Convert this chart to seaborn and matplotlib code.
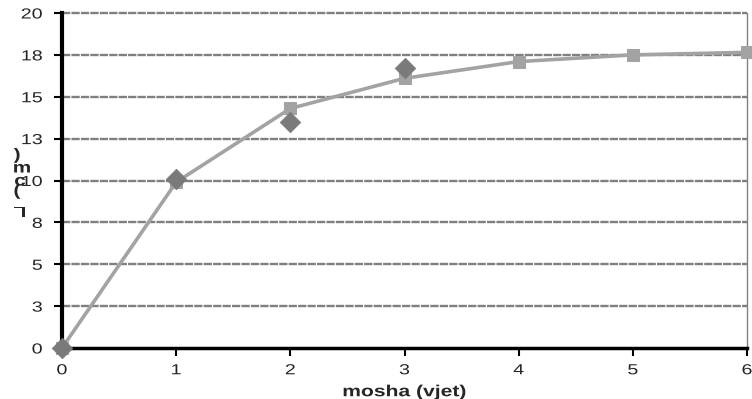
import matplotlib
matplotlib.use("Agg")
import matplotlib.pyplot as plt
import seaborn as sns
import pandas as pd
from matplotlib.patheffects import AbstractPathEffect
from matplotlib.transforms import Affine2D

# Age (years) and body length
age = [0, 1, 2, 3, 4, 5, 6]
length_fit = [0, 9.9, 14.3, 16.1, 17.1, 17.5, 17.65]
age_obs = [0, 1, 2, 3]
length_obs = [0, 10.1, 13.5, 16.7]

y_ticks = [0, 2.5, 5, 7.5, 10, 12.5, 15, 17.5, 20]
y_tick_labels = ["0", "3", "5", "8", "10", "13", "15", "18", "20"]
x_ticks = [0, 1, 2, 3, 4, 5, 6]


class Stretch(AbstractPathEffect):
    """Widen glyphs horizontally about a fraction of the text's width."""

    def __init__(self, sx=1.35, frac=0.5):
        super().__init__()
        self.sx = sx
        self.frac = frac

    def draw_path(self, renderer, gc, tpath, affine, rgbFace=None):
        ext = tpath.get_extents()
        x0 = ext.x0 + self.frac * (ext.x1 - ext.x0)
        t = Affine2D().translate(-x0, 0).scale(self.sx, 1).translate(x0, 0) + affine
        renderer.draw_path(gc, tpath, t, rgbFace)


sns.set_theme(style="white")
plt.rcParams["font.family"] = ["Liberation Sans", "DejaVu Sans"]

fit_df = pd.DataFrame({"mosha": age, "L": length_fit})
obs_df = pd.DataFrame({"mosha": age_obs, "L": length_obs})

fig = plt.figure(figsize=(7.52, 3.99), dpi=100)
ax = fig.add_axes([62 / 752, 51 / 399, 685 / 752, 335 / 399])

# dashed horizontal grid
for yv in y_ticks[1:]:
    ax.axhline(yv, color="#7f7f7f", lw=1.7, ls=(0, (3.5, 0.5)), zorder=1)

sns.lineplot(data=fit_df, x="mosha", y="L", ax=ax, color="#a3a3a3", lw=2.6,
             marker="s", markersize=8, markeredgecolor="#a3a3a3",
             markerfacecolor="#a3a3a3", zorder=3)
sns.scatterplot(data=obs_df, x="mosha", y="L", ax=ax, marker="D", s=110,
                color="#7a7a7a", edgecolor="#7a7a7a", linewidth=0.5,
                zorder=4, clip_on=False)

ax.set_xlim(0, 6)
ax.set_ylim(0, 20)
ax.set_xticks(x_ticks)
ax.set_xticklabels([str(v) for v in x_ticks], fontsize=10.5)
ax.set_yticks(y_ticks)
ax.set_yticklabels(y_tick_labels, fontsize=10.5)
ax.tick_params(axis="both", direction="out", length=6, width=1.5,
               color="black", left=True, bottom=True)
ax.tick_params(axis="y", pad=8)
ax.tick_params(axis="x", pad=5)
for lab in ax.get_xticklabels():
    lab.set_path_effects([Stretch(1.35, 0.5)])
for lab in ax.get_yticklabels():
    lab.set_path_effects([Stretch(1.35, 1.0)])

ax.spines["top"].set_visible(False)
ax.spines["right"].set_color("#808080")
ax.spines["right"].set_linewidth(1.0)
ax.spines["left"].set_color("black")
ax.spines["left"].set_linewidth(3)
ax.spines["bottom"].set_color("black")
ax.spines["bottom"].set_linewidth(2.5)
for ln in ax.get_lines():
    ln.set_clip_on(False)

xl = ax.set_xlabel("mosha (vjet)", fontsize=11.5, fontweight="bold", labelpad=5)
xl.set_path_effects([Stretch(1.32, 0.5)])
ax.set_ylabel("")

# stacked axis title characters
for ch, (x, y), rot in [(")", (17, 155), 0), ("m", (22, 168), 0),
                        ("c", (20, 181), 0), ("(", (17, 191), 0),
                        ("L", (20, 211), 180)]:
    t = fig.text(x / 752, 1 - y / 399, ch, fontsize=11.5, fontweight="bold",
                 ha="center", va="center", rotation=rot)
    t.set_path_effects([Stretch(1.3, 0.5)])

fig.savefig("out.png", dpi=100)
